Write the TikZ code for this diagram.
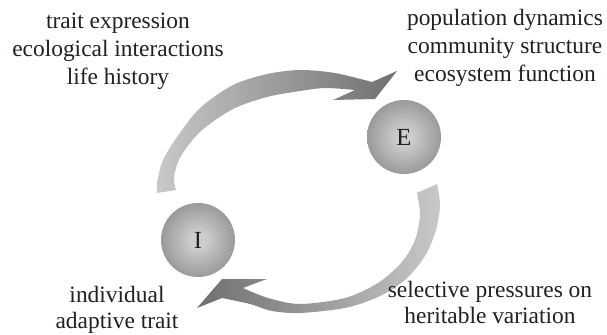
\documentclass[tikz,border=0pt]{standalone}
\usepackage{fontspec}
\setmainfont{Liberation Serif}
\usepackage{xcolor}
\definecolor{inkgray}{HTML}{231F20}
\definecolor{tailgray}{HTML}{C8C8C8}
\definecolor{headgray}{HTML}{6F6F6F}
\definecolor{ballcore}{HTML}{CDCDCD}
\definecolor{ballmid}{HTML}{959595}
\definecolor{balledge}{HTML}{5A5A5A}
\pgfdeclareradialshading{ballshade}{\pgfpoint{0bp}{0bp}}{color(0bp)=(ballcore); color(5bp)=(ballcore); color(27bp)=(ballmid); color(50bp)=(balledge)}
\tikzset{
    ball/.style = {circle, minimum size=2.22cm, inner sep=0pt, shading=ballshade, text=inkgray, font=\fontsize{21}{24}\selectfont},
    caption-text/.style = {align=center, anchor=north, inner sep=0pt, text=inkgray, font=\fontsize{20}{24}\selectfont},
}

\begin{document}
\begin{tikzpicture}[x=0.03cm, y=-0.03cm]
\useasboundingbox (0,0) rectangle (607,335);

% the two states
\node [ball] (env) at (404,137) {E};
\node [ball] (ind) at (198,240) {I};

% upper arrow, I to E
\shade [left color=tailgray, right color=headgray]
  plot [smooth] coordinates {(157,193) (158,178) (163,160) (177,137) (200,108) (233,85) (267,74) (300,70) (335,73) (372,82)}
  -- (397,71) -- (375,99) -- (333,100) -- (355,90)
  -- plot [smooth] coordinates {(355,90) (325,88) (300,91) (267,97) (233,109) (201,131) (181,156) (174,177) (176,190)}
  -- cycle;

% lower arrow, E to I
\shade [left color=headgray, right color=tailgray]
  plot [smooth] coordinates {(437,184) (440,205) (436,230) (425,256) (405,280) (378,297) (345,308) (300,313) (272,311) (250,304) (222,298)}
  -- (197,308) -- (222,279) -- (267,279) -- (243,288)
  -- plot [smooth] coordinates {(243,288) (268,298) (300,304) (345,298) (378,283) (402,262) (415,240) (420,215) (417,193)}
  -- cycle;

% captions
\node [caption-text] (ind-top) at (118,13) {trait expression\\ecological interactions\\life history};
\node [caption-text] (env-top) at (505,9) {population dynamics\\community structure\\ecosystem function};
\node [caption-text, font=\fontsize{20}{22.5}\selectfont] (ind-bot) at (117,286) {individual\\adaptive trait};
\node [caption-text, font=\fontsize{20}{22.5}\selectfont] (env-bot) at (490,281) {selective pressures on\\heritable variation};
\end{tikzpicture}
\end{document}
